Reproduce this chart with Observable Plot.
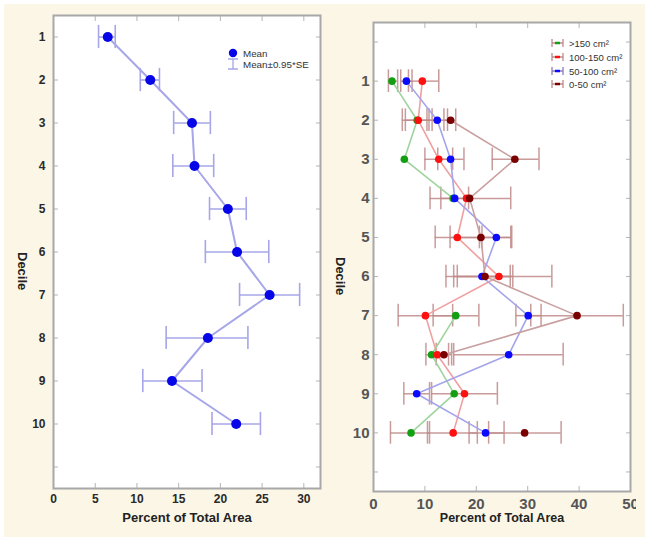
<!DOCTYPE html>
<html><head><meta charset="utf-8">
<script src="https://cdn.jsdelivr.net/npm/d3@7"></script>
<script src="https://cdn.jsdelivr.net/npm/@observablehq/plot@0.6"></script>
<style>
html,body{margin:0;padding:0;background:#fff;}
#wrap{position:relative;width:654px;height:541px;overflow:hidden;font-family:"Liberation Sans",Arial,sans-serif;}
#bg{position:absolute;left:4px;top:4px;width:641px;height:533px;background:#fbf6e6;}
#left{position:absolute;left:0;top:0;width:330px;height:541px;}
#right{position:absolute;left:330px;top:0;width:306px;height:541px;overflow:hidden;}
#legL,#legR{position:absolute;left:0;top:0;}
</style></head><body>
<div id="wrap"><div id="bg"></div><div id="left"></div><div id="right"></div><svg id="legL" width="654" height="541"></svg><svg id="legR" width="654" height="541"></svg></div>
<script>
// ---------- data ----------
const deciles = [1, 2, 3, 4, 5, 6, 7, 8, 9, 10];
const yTickValues = [1, 2, 3, 4, 5, 6, 7, 8, 9, 10, 11];
const xTicksLeft = [0, 5, 10, 15, 20, 25, 30];
const xTicksRight = [0, 10, 20, 30, 40, 50];

// left panel: all images
const meanAll = [6.5, 11.6, 16.6, 16.9, 20.9, 22.0, 25.9, 18.5, 14.2, 21.9];
const loAll   = [5.4, 10.4, 14.4, 14.3, 18.7, 18.2, 22.3, 13.5, 10.7, 19.0];
const hiAll   = [7.4, 12.7, 18.8, 19.2, 23.1, 25.8, 29.5, 23.3, 17.8, 24.8];
const leftLegend = ["Mean", "Mean±0.95*SE"];

// right panel: by size class
const seriesNames = [">150 cm²", "100-150 cm²", "50-100 cm²", "0-50 cm²"];
const meanG = [3.6, 8.5, 6.0, 15.5, null, null, 16.0, 11.3, 15.7, 7.3];
const loG   = [2.9, 6.2, null, null, null, null, 11.6, null, null, 3.3];
const hiG   = [4.7, 10.8, null, null, null, null, 20.5, null, null, 10.9];
const meanR = [9.5, 8.7, 12.7, 18.1, 16.3, 24.4, 10.1, 12.4, 17.7, 15.5];
const loR   = [6.8, 5.6, 10.0, null, 12.0, 14.1, 4.8, 10.2, 11.3, 10.5];
const hiR   = [12.7, 11.4, 15.4, null, 20.6, 34.7, 15.4, 14.6, 24.1, 20.2];
const meanB = [6.4, 12.4, 15.0, 15.8, 23.9, 21.1, 30.1, 26.3, 8.4, 21.8];
const loB   = [5.3, 10.4, 12.5, 13.1, 21.1, 15.6, 27.7, 15.6, 5.9, 18.6];
const hiB   = [7.5, 14.4, 17.6, 18.5, 26.7, 26.6, 32.6, 36.9, 10.9, 25.4];
const meanD = [null, 15.0, 27.5, 18.7, 20.9, 21.7, 39.6, 13.7, null, 29.4];
const loD   = [null, 13.7, 23.1, 11.0, 14.9, 16.3, 30.6, 12.2, null, 22.4];
const hiD   = [null, 16.0, 32.2, 26.7, 26.9, 27.1, 48.6, 15.2, null, 36.5];

// ---------- styles ----------
const dotColors  = ["#12a012", "#ff1010", "#0a0aff", "#7a0000"];
const lineColors = ["#9fd49f", "#f0a0a0", "#a4a4ec", "#c9a0a0"];
const whiskerColor = "#bf8a8a";
const font = "'Liberation Sans', Arial, sans-serif";

// ---------- tables ----------
const leftData = deciles.map((d, i) => ({decile: d, mean: meanAll[i], lo: loAll[i], hi: hiAll[i]}));
const seriesMeans = [meanG, meanR, meanB, meanD];
const seriesLo = [loG, loR, loB, loD];
const seriesHi = [hiG, hiR, hiB, hiD];
const rightData = seriesNames.map((s, k) => deciles.map((d, i) => ({
  series: s, k, decile: d, mean: seriesMeans[k][i], lo: seriesLo[k][i], hi: seriesHi[k][i]})));
const rightErr = rightData.flat().filter(d => d.lo != null && d.hi != null);

function frameTicks(xt, yt, color) {
  return [
    Plot.axisX(xt, {anchor: "bottom", tickSize: -5, tickFormat: () => "", label: null, stroke: color}),
    Plot.axisX(xt, {anchor: "top", tickSize: -5, tickFormat: () => "", label: null, stroke: color}),
    Plot.axisY(yt, {anchor: "left", tickSize: -5, tickFormat: () => "", label: null, stroke: color}),
    Plot.axisY(yt, {anchor: "right", tickSize: -5, tickFormat: () => "", label: null, stroke: color})
  ];
}

// ---------- left chart ----------
const capL = 0.27;
const left = Plot.plot({
  width: 330, height: 541,
  marginLeft: 53, marginRight: 10, marginTop: 15, marginBottom: 53,
  style: {background: "transparent", fontFamily: font, overflow: "visible"},
  x: {domain: [0, 32], axis: null},
  y: {domain: [0.5, 11.5], reverse: true, axis: null},
  marks: [
    Plot.frame({fill: "white"}),
    Plot.ruleY(leftData, {y: "decile", x1: "lo", x2: "hi", stroke: "#a6a6e8", strokeWidth: 1.6}),
    Plot.ruleX(leftData, {x: "lo", y1: d => d.decile - capL, y2: d => d.decile + capL, stroke: "#a6a6e8", strokeWidth: 1.6}),
    Plot.ruleX(leftData, {x: "hi", y1: d => d.decile - capL, y2: d => d.decile + capL, stroke: "#a6a6e8", strokeWidth: 1.6}),
    Plot.line(leftData, {x: "mean", y: "decile", stroke: "#a6a6e8", strokeWidth: 2}),
    Plot.dot(leftData, {x: "mean", y: "decile", r: 5, fill: "#0505e8"}),
    ...frameTicks(xTicksLeft, yTickValues, "#b5b5b5"),
    Plot.frame({stroke: "#a8a8a8", strokeWidth: 2}),
    Plot.axisX(xTicksLeft, {anchor: "bottom", tickSize: 0, tickPadding: 6, label: null, fontSize: 12, fontWeight: "bold", fill: "#2a2a2a"}),
    Plot.axisY(yTickValues, {anchor: "left", tickSize: 0, tickPadding: 8, label: null, tickFormat: d => d <= 10 ? d : "", fontSize: 12, fontWeight: "bold", fill: "#2a2a2a"}),
    Plot.text(["Percent of Total Area"], {frameAnchor: "bottom", dy: 33, fontSize: 13, fontWeight: "bold", fill: "#222"}),
    Plot.text(["Decile"], {frameAnchor: "left", dx: -31, rotate: 90, fontSize: 13, fontWeight: "bold", fill: "#222"})
  ]
});
document.getElementById("left").appendChild(left);

// ---------- right chart ----------
const capR = 0.29;
const rMarks = [Plot.frame({fill: "white"})];
rMarks.push(Plot.ruleY(rightErr, {y: "decile", x1: "lo", x2: "hi", stroke: whiskerColor, strokeWidth: 1.5, strokeOpacity: 0.85}));
rMarks.push(Plot.ruleX(rightErr, {x: "lo", y1: d => d.decile - capR, y2: d => d.decile + capR, stroke: whiskerColor, strokeWidth: 1.5, strokeOpacity: 0.85}));
rMarks.push(Plot.ruleX(rightErr, {x: "hi", y1: d => d.decile - capR, y2: d => d.decile + capR, stroke: whiskerColor, strokeWidth: 1.5, strokeOpacity: 0.85}));
rightData.forEach((rows, k) => {
  rMarks.push(Plot.line(rows, {x: "mean", y: "decile", stroke: lineColors[k], strokeWidth: 1.6}));
});
rightData.forEach((rows, k) => {
  rMarks.push(Plot.dot(rows.filter(d => d.mean != null), {x: "mean", y: "decile", r: 3.8, fill: dotColors[k]}));
});
rMarks.push(...frameTicks(xTicksRight, [0, ...yTickValues], "#b5b5b5"));
rMarks.push(Plot.frame({stroke: "#a8a8a8", strokeWidth: 2}));
rMarks.push(Plot.axisX(xTicksRight, {anchor: "bottom", tickSize: 0, tickPadding: 7, label: null, fontSize: 15, fontWeight: "bold", fill: "#555"}));
rMarks.push(Plot.axisY([0, ...yTickValues], {anchor: "left", tickSize: 0, tickPadding: 4, label: null, tickFormat: d => d >= 1 && d <= 10 ? d : "", fontSize: 15, fontWeight: "bold", fill: "#555"}));
rMarks.push(Plot.text(["Percent of Total Area"], {frameAnchor: "bottom", dy: 30, fontSize: 12.5, fontWeight: "bold", fill: "#222"}));
rMarks.push(Plot.text(["Decile"], {frameAnchor: "left", dx: -33, rotate: 90, fontSize: 13, fontWeight: "bold", fill: "#222"}));

const right = Plot.plot({
  width: 306, height: 541,
  marginLeft: 43, marginRight: 6, marginTop: 22, marginBottom: 50,
  style: {background: "transparent", fontFamily: font, overflow: "visible"},
  x: {domain: [0, 50], axis: null},
  y: {domain: [-0.5, 11.5], reverse: true, axis: null},
  marks: rMarks
});
document.getElementById("right").appendChild(right);

// ---------- legends ----------
const gl = d3.select("#legL").append("g").attr("font-family", font).attr("font-size", 9.8).attr("fill", "#333");
gl.append("circle").attr("cx", 233).attr("cy", 53).attr("r", 4.2).attr("fill", "#0505e8");
gl.append("text").attr("x", 243).attr("y", 56.5).text(leftLegend[0]);
gl.append("path").attr("d", "M228,59H238M233,59V69M228,69H238").attr("stroke", "#a6a6e8").attr("stroke-width", 1.3).attr("fill", "none");
gl.append("text").attr("x", 243).attr("y", 67.5).text(leftLegend[1]);

const gr = d3.select("#legR").append("g").attr("font-family", font).attr("font-size", 9.5).attr("fill", "#333");
const legRows = [43, 57, 71, 84];
seriesNames.forEach((s, k) => {
  const y = legRows[k];
  gr.append("path").attr("d", `M552,${y-4}V${y+4}M563,${y-4}V${y+4}M552,${y}H563`)
    .attr("stroke", k === 2 ? "#8c7cc0" : whiskerColor).attr("stroke-width", 1.3).attr("fill", "none");
  gr.append("path").attr("d", `M555,${y}H560`).attr("stroke", dotColors[k]).attr("stroke-width", 2.5);
  gr.append("text").attr("x", 569).attr("y", y + 3.5).text(s);
});
</script></body></html>
